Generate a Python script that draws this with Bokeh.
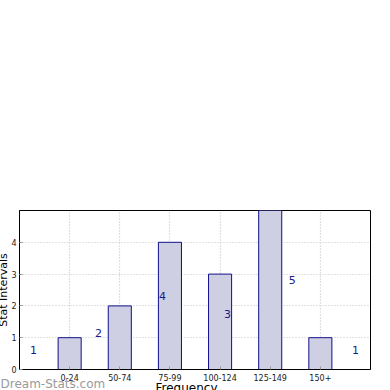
from bokeh.plotting import figure
from bokeh.models import ColumnDataSource, Range1d, FixedTicker, Title
from bokeh.core.properties import value
from bokeh.embed import file_html
from bokeh.resources import INLINE

categories = ["0-24", "50-74", "75-99", "100-124", "125-149", "150+"]
counts = [1, 2, 4, 3, 5, 1]
note_texts = ["1", "2", "4", "3", "5", "1"]
note_x = [-0.72, 0.575, 1.85, 3.15, 4.44, 5.7]
note_y = [0.6, 1.16, 2.3, 1.73, 2.83, 0.6]
y_ticks = [0, 1, 2, 3, 4]

FONT = "DejaVu Sans"
xs = list(range(len(categories)))

p = figure(width=390, height=390, output_backend="svg", toolbar_location=None,
           x_range=Range1d(-1, 6), y_range=Range1d(0, 5),
           min_border_left=19, min_border_right=20, min_border_top=210,
           min_border_bottom=21)
p.background_fill_color = "white"
p.border_fill_color = "white"
p.outline_line_color = "black"
p.outline_line_width = 1

src = ColumnDataSource(dict(x=xs, top=counts))
p.vbar(x="x", top="top", bottom=0, width=0.46, source=src,
       fill_color="#cfcfe4", line_color="#10108a", line_width=1)

nsrc = ColumnDataSource(dict(x=note_x, y=note_y, t=note_texts))
p.text(x="x", y="y", text="t", source=nsrc, text_color="#1a1a8a",
       text_font=value(FONT), text_font_size="11px", text_align="center",
       text_baseline="middle")

# axes
p.xaxis.ticker = FixedTicker(ticks=xs)
p.xaxis.major_label_overrides = {i: c for i, c in zip(xs, categories)}
p.yaxis.ticker = FixedTicker(ticks=y_ticks)
for ax in (p.xaxis[0], p.yaxis[0]):
    ax.major_label_text_font = FONT
    ax.major_label_text_font_size = "8px"
    ax.major_label_text_color = "#222222"
    ax.major_tick_out = 0
    ax.major_tick_in = 3
    ax.major_tick_line_color = "#999999"
    ax.minor_tick_line_color = None
    ax.axis_line_color = "black"
p.xaxis.major_label_standoff = 4
p.yaxis.major_label_standoff = 3

# axis titles and watermark as side titles
ylab = Title(text="Stat Intervals", align="center", vertical_align="top",
             text_font=FONT, text_font_size="11px", text_font_style="normal",
             text_color="black", standoff=-7)
p.add_layout(ylab, "left")

wm = Title(text="Dream-Stats.com", align="left", vertical_align="middle",
           text_font=FONT, text_font_size="12px", text_font_style="normal",
           text_color="#9a9a9a", standoff=-16, offset=-19)
p.add_layout(wm, "below")

xlab = Title(text="Frequency", align="left", vertical_align="bottom",
             text_font=FONT, text_font_size="12px", text_font_style="normal",
             text_color="black", standoff=-9, offset=136)
p.add_layout(xlab, "below")

p.xgrid.ticker = FixedTicker(ticks=xs)
p.ygrid.ticker = FixedTicker(ticks=[1, 2, 3, 4])
p.grid.grid_line_color = "#c4c4c4"
p.grid.grid_line_dash = "1 2"
p.grid.grid_line_width = 1.2

open("out.html", "w").write(file_html(p, INLINE))
